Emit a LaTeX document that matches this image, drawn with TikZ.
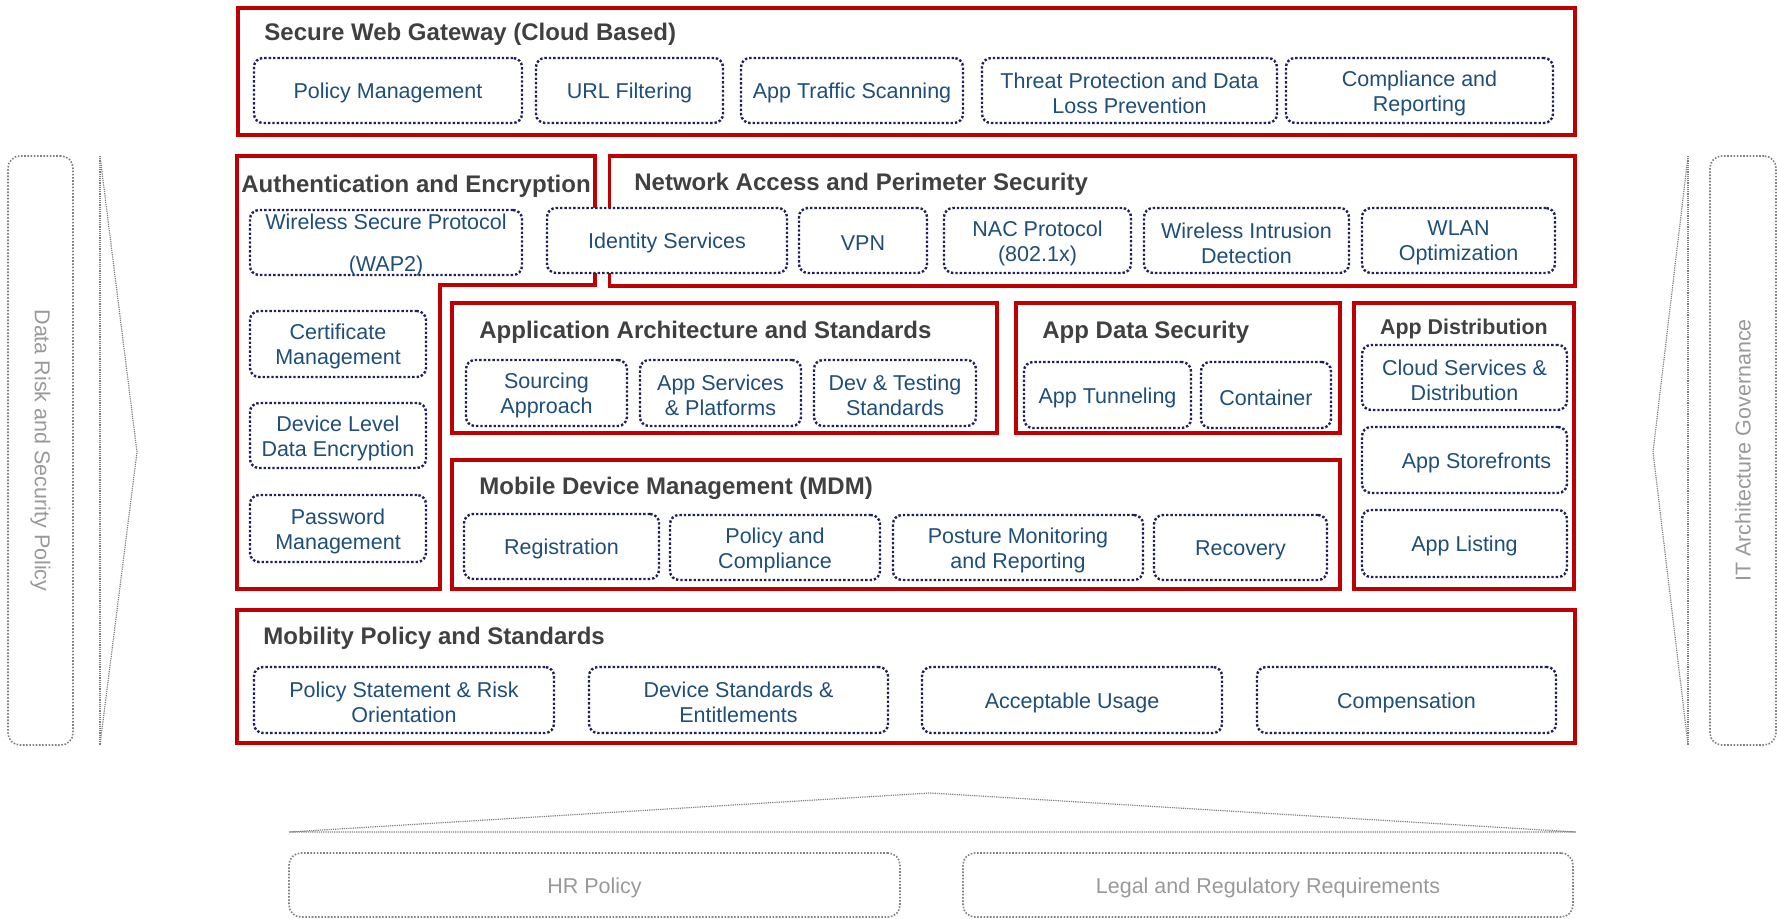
\documentclass[tikz,border=0pt]{standalone}
\usepackage{fontspec}
\setmainfont{Liberation Sans}
\usetikzlibrary{fit}
\definecolor{redc}{HTML}{C00000}
\definecolor{navyc}{HTML}{1F1F5C}
\definecolor{bluet}{HTML}{1F4E79}
\definecolor{titlec}{HTML}{404040}
\definecolor{greyc}{HTML}{808080}
\definecolor{greyt}{HTML}{999999}
\newcommand\cellbox[6]{\node[cell, fit={(#2,#3) (#4,#5)}] (#1) {};\node[celltext] (#1-t) at (#1.center) {#6};}
\newcommand\redrect[5]{\node[redbox, fit={(#2,#3) (#4,#5)}] (#1) {};}
\begin{document}
\begin{tikzpicture}[x=0.5pt,y=-0.5pt,
  redbox/.style={draw=redc, line width=1.6pt, inner sep=0pt},
  redpath/.style={draw=redc, line width=1.6pt},
  cell/.style={draw=navyc, line width=1.2pt, dash pattern=on 1.2pt off 1pt, rounded corners=4.5pt, fill=white, inner sep=0pt},
  celltext/.style={text=bluet, align=center, inner sep=0pt, yshift=-1.3pt, font=\fontsize{10.75}{12.5}\selectfont},
  ttl/.style={text=titlec, font=\bfseries\fontsize{12}{14}\selectfont, inner sep=0pt, anchor=west, yshift=-1.4pt},
  gbox/.style={draw=greyc, line width=0.8pt, dash pattern=on 0.8pt off 0.8pt, rounded corners=6pt, inner sep=0pt},
  gtext/.style={text=greyt, inner sep=0pt, font=\fontsize{10.75}{13}\selectfont},
  gline/.style={draw=greyc, line width=0.6pt, dash pattern=on 0.6pt off 0.5pt}]
\useasboundingbox (0,0) rectangle (1777,919);

% ---------- red group boxes ----------
\redrect{swg}{238}{8}{1575}{135}
\draw[redpath] (237,156) -- (595,156) -- (595,285) -- (440,285) -- (440,589) -- (237,589) -- cycle;
\redrect{nap}{609.5}{156}{1575}{286}
\redrect{aas}{452}{303}{997}{433}
\redrect{ads}{1016}{303}{1340}{433}
\redrect{adist}{1354}{303}{1574}{589}
\redrect{mdm}{452}{460}{1340}{589}
\redrect{mob}{237}{610}{1575}{743}

% ---------- titles ----------
\node[ttl] (tswg) at (264,32) {Secure Web Gateway (Cloud Based)};
\node[ttl] (tauth) at (241,183) {Authentication and Encryption};
\node[ttl] (tnap) at (634,181) {Network Access and Perimeter Security};
\node[ttl] (taas) at (479,329) {Application Architecture and Standards};
\node[ttl] (tads) at (1042,329) {App Data Security};
\node[ttl, anchor=center, font=\bfseries\fontsize{10.7}{13}\selectfont] (tadist) at (1464,326) {App Distribution};
\node[ttl] (tmdm) at (479,486) {Mobile Device Management (MDM)};
\node[ttl] (tmob) at (263,635) {Mobility Policy and Standards};

% ---------- Secure Web Gateway ----------
\cellbox{polm}{254}{58}{522}{123}{Policy Management}
\cellbox{url}{536}{58}{723}{123}{URL Filtering}
\cellbox{ats}{741}{58}{963}{123}{App Traffic Scanning}
\cellbox{tp}{982}{58}{1277}{123}{Threat Protection and Data\\Loss Prevention}
\cellbox{cr}{1286}{58}{1553}{123}{Compliance and\\Reporting}

% ---------- Network / Auth row ----------
\cellbox{wsp}{250}{210}{522}{275}{Wireless Secure Protocol\\[8.5pt](WAP2)}
\cellbox{ids}{547}{208}{787}{273}{Identity Services}
\cellbox{vpn}{799}{208}{927}{273}{VPN}
\cellbox{nac}{944}{208}{1131}{273}{NAC Protocol\\(802.1x)}
\cellbox{wid}{1144}{208}{1349}{273}{Wireless Intrusion\\Detection}
\cellbox{wlan}{1362}{208}{1555}{273}{WLAN\\Optimization}

% ---------- Auth column ----------
\cellbox{cert}{250}{311}{426}{377}{Certificate\\Management}
\cellbox{dle}{250}{403}{426}{468}{Device Level\\Data Encryption}
\cellbox{pwd}{250}{495}{426}{562}{Password\\Management}

% ---------- Application Architecture ----------
\cellbox{src}{466}{360}{627}{426}{Sourcing\\Approach}
\cellbox{aps}{640}{360}{801}{426}{App Services\\\& Platforms}
\cellbox{dev}{814}{360}{976}{426}{Dev \& Testing\\Standards}

% ---------- App Data Security ----------
\cellbox{tun}{1024}{362}{1191}{428}{App Tunneling}
\cellbox{cont}{1201}{362}{1331}{428}{Container}

% ---------- App Distribution ----------
\cellbox{cs}{1362}{345}{1567}{410}{Cloud Services \&\\Distribution}
\cellbox{asf}{1362}{427}{1567}{493}{\hspace*{12pt}App Storefronts}
\cellbox{al}{1362}{510}{1567}{577}{App Listing}

% ---------- MDM ----------
\cellbox{reg}{464}{514}{659}{579}{Registration}
\cellbox{pc}{670}{515}{880}{580}{Policy and\\Compliance}
\cellbox{pmr}{893}{515}{1143}{580}{Posture Monitoring\\and Reporting}
\cellbox{rec}{1154}{515}{1327}{580}{Recovery}

% ---------- Mobility Policy ----------
\cellbox{pso}{254}{667}{554}{733}{Policy Statement \& Risk\\Orientation}
\cellbox{dse}{589}{667}{888}{733}{Device Standards \&\\Entitlements}
\cellbox{au}{922}{667}{1222}{733}{Acceptable Usage}
\cellbox{comp}{1257}{667}{1556}{733}{Compensation}

% ---------- side governance ----------
\node[gbox, fit={(8,156) (73,745)}] (lbox) {};
\node[gtext, rotate=-90] (ltext) at (lbox.center) {Data Risk and Security Policy};
\draw[gline] (100,156) -- (100,745);
\draw[gline] (100,156) -- (137,452) -- (100,745);

\node[gbox, fit={(1710,156) (1776,745)}] (rbox) {};
\node[gtext, rotate=90] (rtext) at (rbox.center) {IT Architecture Governance};
\draw[gline] (1688,156) -- (1688,745);
\draw[gline] (1688,156) -- (1653,452) -- (1688,745);

% ---------- bottom foundation ----------
\draw[gline] (289,832) -- (930,793) -- (1576,832) -- cycle;
\node[gbox, fit={(289,853) (900,917)}] (hr) {};
\node[gtext, yshift=-1.3pt] (hr-t) at (hr.center) {HR Policy};
\node[gbox, fit={(963,853) (1573,917)}] (legal) {};
\node[gtext, yshift=-1.3pt] (legal-t) at (legal.center) {Legal and Regulatory Requirements};
\end{tikzpicture}
\end{document}
